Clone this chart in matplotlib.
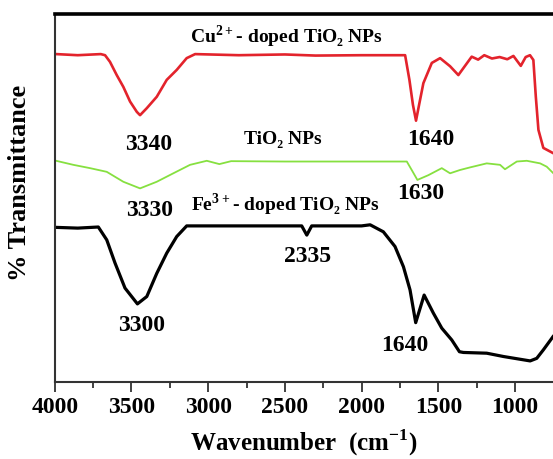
# FTIR spectra of TiO2, Cu2+-doped TiO2 and Fe3+-doped TiO2 nanoparticles
import numpy as np
import matplotlib.pyplot as plt
from matplotlib.ticker import MultipleLocator

plt.rcParams['font.family'] = ['Liberation Serif', 'DejaVu Serif']
plt.rcParams['font.weight'] = 'bold'
plt.rcParams['mathtext.fontset'] = 'custom'
plt.rcParams['mathtext.rm'] = 'Liberation Serif:bold'
plt.rcParams['mathtext.bf'] = 'Liberation Serif:bold'

# Cu2+ doped TiO2 (red)
cu_wn = [3990, 3850, 3700, 3672, 3640, 3596, 3553, 3509, 3465, 3444, 3400, 3335,
         3270, 3205, 3140, 3085, 2800, 2500, 2300, 2000, 1716, 1688, 1665, 1645,
         1625, 1597, 1542, 1488, 1423, 1369, 1336, 1282, 1240, 1200, 1150, 1100,
         1050, 1010, 962, 930, 902, 880, 864, 847, 815, 752]
cu_t = [89.1, 88.8, 89.1, 88.8, 87.0, 83.4, 80.2, 76.2, 73.4, 72.5, 74.4, 77.5,
        82.1, 84.8, 88.0, 89.1, 88.8, 89.0, 88.7, 88.8, 88.8, 82.1, 75.3, 71.0,
        75.3, 81.2, 86.7, 88.0, 85.8, 83.4, 85.3, 88.4, 87.6, 88.8, 87.9, 88.3,
        87.7, 88.6, 85.9, 88.3, 88.8, 87.5, 77.5, 68.5, 63.6, 62.2]

# pure TiO2 (green)
ti_wn = [3991, 3879, 3770, 3661, 3553, 3444, 3335, 3227, 3118, 3009, 2927, 2850,
         2500, 2000, 1705, 1673, 1636, 1564, 1477, 1423, 1358, 1293, 1184, 1097,
         1065, 988, 923, 836, 793, 752]
ti_t = [60.1, 59.0, 58.1, 57.1, 54.4, 52.6, 54.4, 56.7, 59.0, 60.1, 59.2, 60.0,
        59.9, 59.9, 59.9, 57.6, 54.9, 56.2, 58.1, 56.7, 57.6, 58.3, 59.4, 59.0,
        57.8, 59.9, 60.1, 59.4, 58.5, 56.8]

# Fe3+ doped TiO2 (black)
fe_wn = [3991, 3850, 3716, 3661, 3607, 3542, 3461, 3400, 3335, 3270, 3205, 3140,
         2800, 2390, 2357, 2325, 2000, 1944, 1858, 1782, 1727, 1684, 1647, 1592,
         1532, 1477, 1412, 1362, 1336, 1184, 1075, 901, 858, 815, 752]
fe_t = [42.0, 41.8, 42.1, 38.6, 32.3, 25.5, 21.2, 23.2, 29.5, 35.0, 39.5, 42.4,
        42.4, 42.4, 39.9, 42.4, 42.4, 42.7, 40.8, 36.8, 31.3, 25.0, 16.1, 23.6,
        18.7, 14.6, 11.4, 8.2, 8.0, 7.8, 6.9, 5.7, 6.4, 8.7, 12.3]

fig = plt.figure(figsize=(5.53, 4.59), dpi=100)
ax = fig.add_axes([0.099, 0.168, 0.901, 0.8015])

ax.plot(cu_wn, cu_t, color='#e3232c', lw=1.9)
ax.plot(ti_wn, ti_t, color='#86e040', lw=1.3)
ax.plot(fe_wn, fe_t, color='black', lw=2.3)

ax.set_xlim(4000, 752)
ax.set_ylim(0, 100)
ax.xaxis.set_major_locator(MultipleLocator(500))
ax.xaxis.set_minor_locator(MultipleLocator(250))
ax.set_yticks([])
ax.tick_params(axis='x', which='major', direction='out', length=7, width=1.3,
               labelsize=17, pad=4, color='#333333')
ax.tick_params(axis='x', which='minor', direction='out', length=4, width=1.3,
               color='#333333')
for lab in ax.get_xticklabels():
    lab.set_fontweight('bold')

ax.spines['right'].set_visible(False)
ax.spines['top'].set_linewidth(2.6)
ax.spines['left'].set_linewidth(1.5)
ax.spines['left'].set_color('#333333')
ax.spines['bottom'].set_linewidth(1.5)
ax.spines['bottom'].set_color('#333333')

ax.set_xlabel('Wavenumber  (cm$^{-1}$)', fontsize=18, fontweight='bold', labelpad=7)
fig.text(0.036, 0.601, '% Transmittance', rotation=90, fontsize=19,
         fontweight='bold', ha='center', va='center')

txt = dict(fontsize=14, fontweight='bold', ha='center', va='center')
ax.text(2492, 93.7, 'Cu$^{2+}$- doped TiO\u2082 NPs', **txt)
ax.text(2512, 65.8, 'TiO\u2082 NPs', **txt)
ax.text(2499, 48.1, 'Fe$^{3+}$- doped TiO\u2082 NPs', **txt)

pk = dict(fontsize=17, fontweight='bold', ha='center', va='center')
ax.text(3385, 64.4, '3340', **pk)
ax.text(1547, 66.0, '1640', **pk)
ax.text(3385, 46.5, '3330', **pk)
ax.text(1612, 51.1, '1630', **pk)
ax.text(2355, 34.0, '2335', **pk)
ax.text(3431, 15.2, '3300', **pk)
ax.text(1717, 9.8, '1640', **pk)

fig.savefig('out.png', dpi=100)
